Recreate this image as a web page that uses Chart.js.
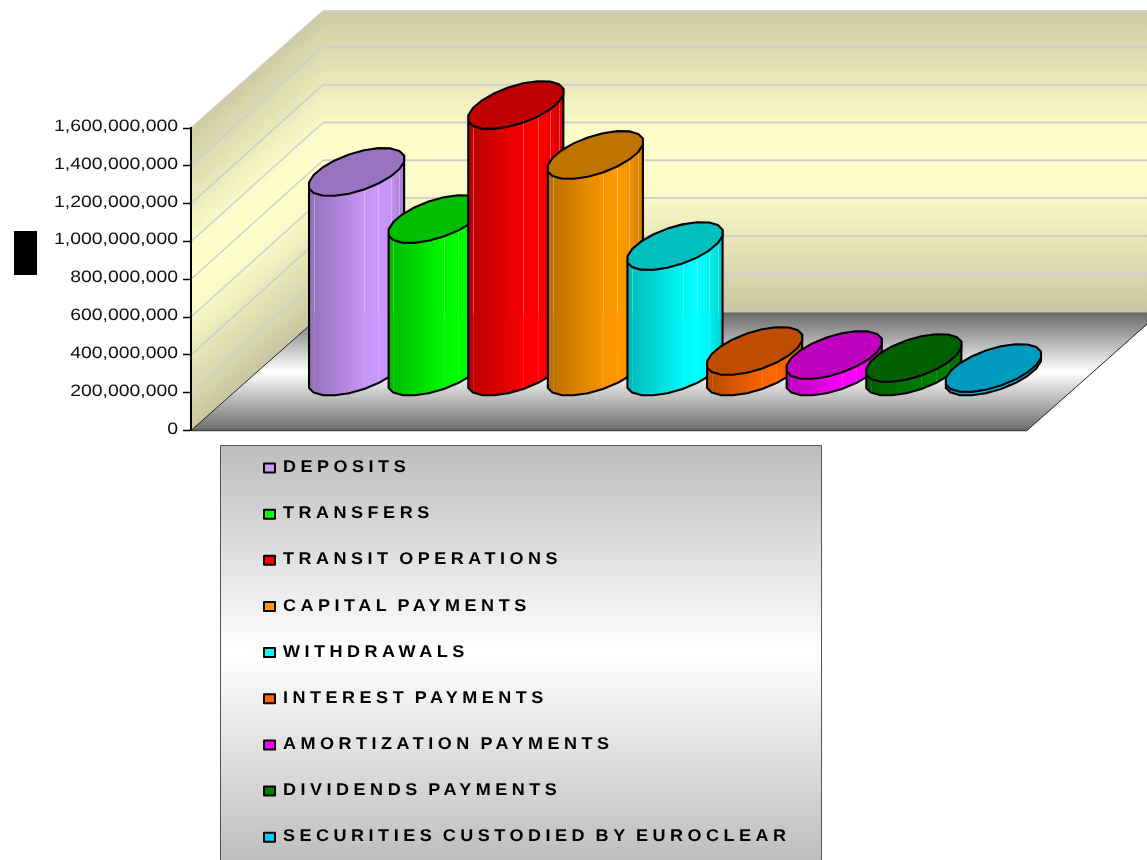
<!DOCTYPE html>
<html lang="en">
<head>
    <meta charset="UTF-8">
    <title>Payments by type</title>
    <script src="https://cdn.jsdelivr.net/npm/chart.js"></script>
    <style>
        html, body { margin: 0; padding: 0; background: #fff; }
        canvas { display: block; }
    </style>
</head>
<body>
    <canvas id="cylinderChart" width="1147" height="860"></canvas>

    <script>
        // Series names and values, in drawing order
        var seriesNames = ['DEPOSITS', 'TRANSFERS', 'TRANSIT OPERATIONS', 'CAPITAL PAYMENTS', 'WITHDRAWALS',
            'INTEREST PAYMENTS', 'AMORTIZATION PAYMENTS', 'DIVIDENDS PAYMENTS', 'SECURITIES CUSTODIED BY EUROCLEAR'];
        var seriesValues = [1058000000, 809000000, 1412000000, 1148000000, 666000000,
            111000000, 90000000, 74000000, 21000000];
        var seriesColors = ['#cc99ff', '#00ff00', '#ff0000', '#ff9900', '#00ffff',
            '#ff6600', '#ff00ff', '#008000', '#00ccff'];

        var axisMax = 1600000000;
        var axisStep = 200000000;

        // Projection of the 3D box: how far the back wall sits from the front plane
        var depthX = 132;
        var depthY = 117;
        var gridDepthY = 119; // grid lines end slightly higher on the back wall
        var discDepth = 24;   // half height of a cylinder cap on the floor
        var facets = 20;      // cylinders are drawn as prisms with this many sides

        function shade(hex, factor) {
            var r = parseInt(hex.substr(1, 2), 16) * factor;
            var g = parseInt(hex.substr(3, 2), 16) * factor;
            var b = parseInt(hex.substr(5, 2), 16) * factor;
            return 'rgb(' + Math.round(r) + ',' + Math.round(g) + ',' + Math.round(b) + ')';
        }

        function wallGradient(ctx, top, bottom) {
            var g = ctx.createLinearGradient(0, top, 0, bottom);
            g.addColorStop(0, '#cdcba3');
            g.addColorStop(0.42, '#ffffcc');
            g.addColorStop(0.58, '#fdfdca');
            g.addColorStop(1, '#c8c6a0');
            return g;
        }

        // Back wall, side wall, floor and the grid lines running over the walls
        function drawBox(chart) {
            var ctx = chart.ctx;
            var area = chart.chartArea;
            var y = chart.scales.y;
            var l = area.left, r = area.right, t = area.top, b = area.bottom;
            var backL = l + depthX, backR = r + depthX;

            ctx.save();
            ctx.fillStyle = wallGradient(ctx, t - depthY, b - depthY);
            ctx.fillRect(backL, t - depthY, backR - backL, b - t);

            // the side wall gradient follows the shear of the wall
            ctx.save();
            ctx.beginPath();
            ctx.moveTo(l, t);
            ctx.lineTo(backL, t - depthY);
            ctx.lineTo(backL, b - depthY);
            ctx.lineTo(l, b);
            ctx.closePath();
            ctx.clip();
            ctx.transform(1, -depthY / depthX, 0, 1, l, 0);
            ctx.fillStyle = wallGradient(ctx, t, b);
            ctx.fillRect(0, t, depthX, b - t);
            ctx.restore();

            var floor = ctx.createLinearGradient(0, b - depthY, 0, b);
            floor.addColorStop(0, '#6c6c6c');
            floor.addColorStop(0.5, '#ffffff');
            floor.addColorStop(1, '#6c6c6c');
            ctx.fillStyle = floor;
            ctx.beginPath();
            ctx.moveTo(l, b);
            ctx.lineTo(backL, b - depthY);
            ctx.lineTo(backR, b - depthY);
            ctx.lineTo(r, b);
            ctx.closePath();
            ctx.fill();

            ctx.strokeStyle = '#cfcfcb';
            y.ticks.forEach(function (tick) {
                if (tick.value === 0) return;
                var py = y.getPixelForValue(tick.value);
                var endY = Math.max(py - gridDepthY, t - depthY);
                ctx.lineWidth = 1.4;
                ctx.beginPath();
                ctx.moveTo(l, py);
                ctx.lineTo(backL, endY);
                ctx.stroke();
                ctx.lineWidth = 2;
                ctx.beginPath();
                ctx.moveTo(backL, endY);
                ctx.lineTo(backR, endY);
                ctx.stroke();
            });

            ctx.strokeStyle = '#686868';
            ctx.lineWidth = 2;
            ctx.beginPath();
            ctx.moveTo(backL, b - depthY);
            ctx.lineTo(backR, b - depthY);
            ctx.stroke();

            ctx.strokeStyle = '#222';
            ctx.lineWidth = 1;
            ctx.beginPath();
            ctx.moveTo(l, b);
            ctx.lineTo(backL, b - depthY);
            ctx.moveTo(r, b);
            ctx.lineTo(backR, b - depthY);
            ctx.stroke();
            ctx.lineWidth = 1.5;
            ctx.strokeStyle = '#444';
            ctx.beginPath();
            ctx.moveTo(l, b);
            ctx.lineTo(r, b);
            ctx.stroke();
            ctx.restore();
        }

        // Outline of one cap as a list of points; a near vertical side sits on each silhouette
        function capPoints(cx, cy, a) {
            var k = depthX / depthY;
            var start = Math.atan2(k * discDepth, a) + Math.PI / facets;
            var pts = [];
            for (var i = 0; i <= facets; i++) {
                var t = start + i / facets * Math.PI * 2;
                pts.push({
                    x: cx + a * Math.cos(t) + k * discDepth * Math.sin(t),
                    y: cy - discDepth * Math.sin(t)
                });
            }
            return pts;
        }

        function sideLight(s) {
            if (s < 0.65) return 0.72 + 0.28 * s / 0.65;
            if (s > 0.82) return 1 - (s - 0.82) / 0.18 * 0.2;
            return 1;
        }

        function drawCylinder(ctx, bar, color, floorY) {
            var cx = bar.x + depthX / 2;
            var topY = bar.y - depthY / 2;
            var baseY = bar.base - depthY / 2;
            var top = capPoints(cx, topY, bar.width / 2);
            var half = facets / 2;
            var h = baseY - topY;
            var left = top[half].x, right = top[0].x;
            var i;

            // front half of the wall, strip by strip from left to right
            for (i = half; i < facets; i++) {
                var p = top[i], q = top[i + 1];
                var s0 = (p.x - left) / (right - left);
                var s1 = (q.x - left) / (right - left);
                var g = ctx.createLinearGradient(p.x, 0, q.x, 0);
                g.addColorStop(0, shade(color, sideLight(s0)));
                g.addColorStop(1, shade(color, sideLight(s1)));
                ctx.fillStyle = g;
                ctx.beginPath();
                ctx.moveTo(p.x, p.y);
                ctx.lineTo(q.x + 0.7, q.y);
                ctx.lineTo(q.x + 0.7, q.y + h);
                ctx.lineTo(p.x, p.y + h);
                ctx.closePath();
                ctx.fill();
            }

            // pale seams between the strips, fainter once they pass the back of the floor
            ctx.lineWidth = 1;
            for (i = half + 1; i < facets - 1; i++) {
                var sx = Math.round(top[i].x) + 0.5;
                var seamTop = top[i].y;
                var seamBottom = top[i].y + h;
                if ((sx - left) / (right - left) < 0.45 && i !== half + 1) continue;
                var mid = Math.max(seamTop, Math.min(seamBottom, floorY));
                ctx.strokeStyle = 'rgba(255,255,255,0.3)';
                ctx.beginPath();
                ctx.moveTo(sx, seamTop);
                ctx.lineTo(sx, mid);
                ctx.stroke();
                ctx.strokeStyle = 'rgba(255,255,255,0.12)';
                ctx.beginPath();
                ctx.moveTo(sx, mid);
                ctx.lineTo(sx, seamBottom);
                ctx.stroke();
            }

            ctx.strokeStyle = '#000';
            ctx.lineWidth = 2.1;
            ctx.lineJoin = 'round';

            ctx.beginPath();
            ctx.moveTo(top[half].x, top[half].y);
            ctx.lineTo(top[half].x, top[half].y + h);
            for (i = half + 1; i <= facets; i++) {
                ctx.lineTo(top[i].x, top[i].y + h);
            }
            ctx.lineTo(top[facets].x, top[facets].y);
            ctx.stroke();

            ctx.fillStyle = shade(color, 0.75);
            ctx.beginPath();
            ctx.moveTo(top[0].x, top[0].y);
            for (i = 1; i < facets; i++) {
                ctx.lineTo(top[i].x, top[i].y);
            }
            ctx.closePath();
            ctx.fill();
            ctx.stroke();
        }

        function drawTickLabels(chart) {
            var ctx = chart.ctx;
            var y = chart.scales.y;
            ctx.save();
            ctx.fillStyle = '#111';
            ctx.font = '16.5px "Liberation Sans"';
            ctx.textRendering = 'geometricPrecision';
            ctx.textAlign = 'right';
            ctx.textBaseline = 'middle';
            y.ticks.forEach(function (tick) {
                ctx.save();
                ctx.translate(178, y.getPixelForValue(tick.value) - 1.5);
                ctx.scale(1.175, 1);
                ctx.fillText(tick.label, 0, 0);
                ctx.restore();
            });
            ctx.restore();
        }

        function drawLegend(chart) {
            var ctx = chart.ctx;
            var boxTop = 445.5, boxLeft = 220.5, boxWidth = 601, boxHeight = 416;
            ctx.save();
            var g = ctx.createLinearGradient(0, boxTop, 0, boxTop + boxHeight);
            g.addColorStop(0, '#bdbdbd');
            g.addColorStop(0.5, '#ffffff');
            g.addColorStop(1, '#bdbdbd');
            ctx.fillStyle = g;
            ctx.fillRect(boxLeft, boxTop, boxWidth, boxHeight);
            ctx.strokeStyle = '#555';
            ctx.lineWidth = 1;
            ctx.strokeRect(boxLeft, boxTop, boxWidth, boxHeight);

            ctx.font = 'bold 17px "Liberation Sans"';
            ctx.textRendering = 'geometricPrecision';
            ctx.letterSpacing = '4.25px';
            ctx.wordSpacing = '-2.8px';
            ctx.textBaseline = 'middle';
            ctx.textAlign = 'left';
            chart.data.datasets.forEach(function (ds, i) {
                var rowY = 467.5 + i * 46.15;
                ctx.fillStyle = ds.backgroundColor;
                ctx.fillRect(264, rowY - 4, 11, 9);
                ctx.strokeStyle = '#000';
                ctx.lineWidth = 2;
                ctx.strokeRect(264, rowY - 4, 11, 9);
                ctx.fillStyle = '#000';
                ctx.save();
                ctx.translate(283, rowY);
                ctx.scale(1.06, 1);
                ctx.fillText(ds.label, 0, 0);
                ctx.restore();
            });
            ctx.restore();

            // the value axis title block at the far left
            ctx.fillStyle = '#000';
            ctx.fillRect(14, 231, 23, 44);
        }

        var cylinderPlugin = {
            id: 'cylinders',
            beforeDraw: drawBox,
            beforeDatasetsDraw: function (chart) {
                var floorY = chart.chartArea.bottom - depthY;
                chart.data.datasets.forEach(function (ds, i) {
                    drawCylinder(chart.ctx, chart.getDatasetMeta(i).data[0], ds.backgroundColor, floorY);
                });
                return false;
            },
            afterDraw: function (chart) {
                drawTickLabels(chart);
                drawLegend(chart);
            }
        };

        var datasets = seriesNames.map(function (name, i) {
            return {
                label: name,
                data: [seriesValues[i]],
                backgroundColor: seriesColors[i],
                barPercentage: 1,
                categoryPercentage: 0.857
            };
        });

        var myChart = new Chart(document.getElementById('cylinderChart'), {
            type: 'bar',
            data: { labels: [''], datasets: datasets },
            plugins: [cylinderPlugin],
            options: {
                responsive: false,
                animation: false,
                layout: { padding: { top: 128, right: 120, bottom: 429.5, left: 0 } },
                plugins: { legend: { display: false }, tooltip: { enabled: false } },
                scales: {
                    x: { display: false },
                    y: {
                        min: 0,
                        max: axisMax,
                        afterFit: function (scale) { scale.width = 191; },
                        ticks: {
                            display: false,
                            stepSize: axisStep,
                            callback: function (value) { return value.toLocaleString('en-US'); }
                        },
                        grid: { drawOnChartArea: false, color: '#000', tickLength: 8, tickWidth: 1.5 },
                        border: { color: '#000', width: 2 }
                    }
                }
            }
        });
    </script>
</body>
</html>
